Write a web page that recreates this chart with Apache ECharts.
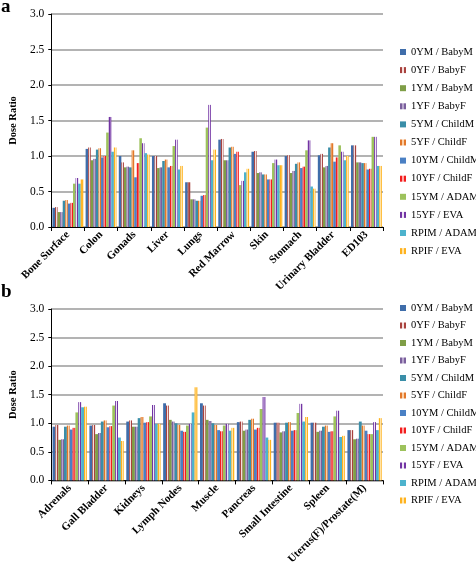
<!DOCTYPE html>
<html>
<head>
<meta charset="utf-8">
<script src="https://cdn.jsdelivr.net/npm/echarts@6/dist/echarts.min.js"></script>
<style>
html,body{margin:0;padding:0;background:#fff;}
#chart{width:476px;height:567px;}
</style>
</head>
<body>
<div id="chart"></div>
<script>
// ---------- data ----------
const categoriesA = ['Bone Surface','Colon','Gonads','Liver','Lungs','Red Marrow','Skin','Stomach','Urinary Bladder','ED103'];
const categoriesB = ['Adrenals','Gall Bladder','Kidneys','Lymph Nodes','Muscle','Pancreas','Small Intestine','Spleen','Uterus(F)/Prostate(M)'];
const seriesNames = ['0YM / BabyM','0YF / BabyF','1YM / BabyM','1YF / BabyF','5YM / ChildM','5YF / ChildF','10YM / ChildM','10YF / ChildF','15YM / ADAM','15YF / EVA','RPIM / ADAM','RPIF / EVA'];
const yTicks = [0, 0.5, 1.0, 1.5, 2.0, 2.5, 3.0];

// panel a values (one array per series, categoriesA order)
const A_0YM  = [0.27,1.10,1.00,1.00,0.63,1.23,1.06,1.00,1.01,1.15];
const A_0YF  = [0.28,1.12,0.91,1.00,0.63,1.24,1.07,1.01,1.03,1.15];
const A_1YM  = [0.21,0.94,0.84,0.83,0.39,0.94,0.76,0.76,0.84,0.91];
const A_1YF  = [0.21,0.96,0.85,0.84,0.39,0.94,0.77,0.79,0.86,0.91];
const A_5YM  = [0.37,1.09,0.84,0.93,0.37,1.12,0.74,0.89,1.12,0.90];
const A_5YF  = [0.38,1.11,1.08,0.95,0.37,1.13,0.74,0.91,1.18,0.90];
const A_10YM = [0.33,0.98,0.70,0.84,0.44,1.03,0.67,0.83,0.92,0.81];
const A_10YF = [0.34,1.00,0.90,0.86,0.45,1.06,0.67,0.85,0.98,0.82];
const A_15YM = [0.61,1.33,1.25,1.14,1.40,0.59,0.90,1.08,1.15,1.27];
const A_15YF = [0.69,1.55,1.18,1.23,1.72,0.65,0.95,1.22,1.06,1.27];
const A_RPIM = [0.61,1.06,1.04,0.81,0.94,0.77,0.87,0.57,0.94,0.86];
const A_RPIF = [0.67,1.12,1.02,0.86,1.09,0.82,0.87,0.54,1.00,0.86];

// panel b values (one array per series, categoriesB order)
const B_0YM  = [0.94,0.96,1.03,1.35,1.35,1.02,1.01,1.01,0.88];
const B_0YF  = [0.97,0.97,1.05,1.31,1.31,1.03,1.01,1.01,0.88];
const B_1YM  = [0.71,0.81,0.94,1.06,1.06,0.87,0.84,0.85,0.72];
const B_1YF  = [0.72,0.83,0.94,1.03,1.04,0.89,0.86,0.87,0.73];
const B_5YM  = [0.94,1.03,1.09,1.00,1.00,1.06,1.01,0.94,1.03];
const B_5YF  = [0.96,1.05,1.11,0.97,0.97,1.08,1.02,0.96,0.96];
const B_10YM = [0.89,0.93,1.01,0.87,0.88,0.89,0.87,0.85,0.87];
const B_10YF = [0.92,0.95,1.02,0.85,0.86,0.92,0.88,0.86,0.81];
const B_15YM = [1.19,1.31,1.12,0.96,0.96,1.25,1.18,1.12,0.81];
const B_15YF = [1.37,1.39,1.32,0.99,0.99,1.46,1.34,1.22,1.02];
const B_RPIM = [1.28,0.75,0.99,1.19,0.87,0.75,1.03,0.76,0.88];
const B_RPIF = [1.29,0.69,0.99,1.63,0.92,0.71,1.11,0.78,1.09];

const dataA = [A_0YM,A_0YF,A_1YM,A_1YF,A_5YM,A_5YF,A_10YM,A_10YF,A_15YM,A_15YF,A_RPIM,A_RPIF];
const dataB = [B_0YM,B_0YF,B_1YM,B_1YF,B_5YM,B_5YF,B_10YM,B_10YF,B_15YM,B_15YF,B_RPIM,B_RPIF];

// ---------- styles ----------
const SERIF = '"Liberation Serif","DejaVu Serif",serif';
const styles = [
  {base:'#3F6DAA'},
  {base:'#A8423E', mid:'#F4DEDC'},
  {base:'#7F9E47'},
  {base:'#7A5F9C', mid:'#B7A6CC'},
  {base:'#3A8EA8'},
  {base:'#E2782A', mid:'#FBCFA6'},
  {base:'#4A80C4'},
  {base:'#F21D1D', mid:'#FFA5A5'},
  {base:'#9DC25C'},
  {base:'#7234A3', mid:'#EDE3F5'},
  {base:'#4DB3CD'},
  {base:'#FFB21E', mid:'#FFE3A6'}
];
function itemStyleFor(s){
  if(!s.mid) return {color:s.base};
  return {
    color: new echarts.graphic.LinearGradient(0,0,1,0,[
      {offset:0,color:s.base},{offset:0.3,color:s.base},
      {offset:0.36,color:s.mid},{offset:0.64,color:s.mid},
      {offset:0.7,color:s.base},{offset:1,color:s.base}
    ])
  };
}

const chart = echarts.init(document.getElementById('chart'), null, {renderer:'canvas'});

function xAxisFor(idx, cats){
  return {
    type:'category', gridIndex:idx, data:cats,
    axisLine:{lineStyle:{color:'#000',width:1}},
    axisTick:{show:true, length:4, lineStyle:{color:'#000'}},
    axisLabel:{interval:0, rotate:45, fontFamily:SERIF, fontWeight:'bold', fontSize:11, color:'#000', margin:6}
  };
}
function yAxisFor(idx){
  return {
    type:'value', gridIndex:idx, min:yTicks[0], max:yTicks[yTicks.length-1], interval:0.5,
    name:'Dose Ratio', nameLocation:'middle', nameGap:30, nameRotate:90,
    nameTextStyle:{fontFamily:SERIF, fontWeight:'bold', fontSize:10.5, color:'#000'},
    axisLine:{show:true, lineStyle:{color:'#000',width:1}},
    axisTick:{show:true, length:3, lineStyle:{color:'#000'}},
    axisLabel:{fontFamily:SERIF, fontSize:11.5, color:'#000', margin:7, formatter:v=>v.toFixed(1)},
    splitLine:{show:true, lineStyle:{color:'#9a9a9a', width:1.5}}
  };
}

const series = [];
[dataA, dataB].forEach((set, gi)=>{
  set.forEach((arr, i)=>{
    series.push({
      type:'bar', name:seriesNames[i], xAxisIndex:gi, yAxisIndex:gi,
      data:arr, barGap:'0%', barCategoryGap:'7%',
      itemStyle:itemStyleFor(styles[i]),
      animation:false
    });
  });
});

function legendFor(top, gap){
  return {
    orient:'vertical', left:395, top:top, itemWidth:6, itemHeight:6, itemGap:gap,
    icon:'rect', selectedMode:false,
    textStyle:{fontFamily:SERIF, fontSize:10.5, color:'#000', lineHeight:12},
    data:seriesNames
  };
}

chart.setOption({
  animation:false,
  backgroundColor:'#fff',
  grid:[
    {left:41, top:14, width:342, height:213},
    {left:41, top:309, width:342, height:179}
  ],
  xAxis:[xAxisFor(0,categoriesA), xAxisFor(1,categoriesB)],
  yAxis:[yAxisFor(0), yAxisFor(1)],
  legend:[legendFor(41,6.1), legendFor(297,5.5)],
  graphic:[
    {type:'text', left:1, top:-2, style:{text:'a', font:'bold 19px '+SERIF, fill:'#000'}},
    {type:'text', left:1, top:283, style:{text:'b', font:'bold 19px '+SERIF, fill:'#000'}}
  ],
  series:series
});
</script>
</body>
</html>
